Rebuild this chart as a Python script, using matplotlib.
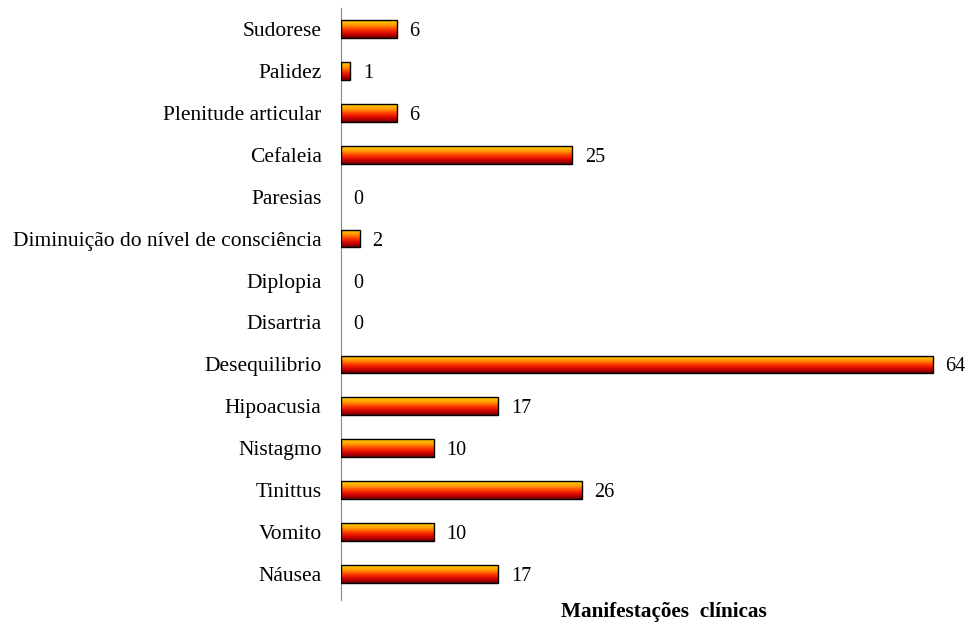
import matplotlib
matplotlib.use("Agg")
import matplotlib.pyplot as plt
import numpy as np
from matplotlib.colors import LinearSegmentedColormap

categories = [
    "Náusea", "Vomito", "Tinittus", "Nistagmo", "Hipoacusia", "Desequilibrio",
    "Disartria", "Diplopia", "Diminuição do nível de consciência", "Paresias",
    "Cefaleia", "Plenitude articular", "Palidez", "Sudorese",
]
values = [17, 10, 26, 10, 17, 64, 0, 0, 2, 0, 25, 6, 1, 6]

plt.rcParams["font.family"] = ["Liberation Serif", "DejaVu Serif"]

W, H = 971, 630
fig = plt.figure(figsize=(W / 100, H / 100), dpi=100)
ax = fig.add_axes([341 / W, 30 / H, 629 / W, 592 / H])

y = np.arange(len(categories))
bars = ax.barh(y, values, height=0.42, color="none", edgecolor="black", linewidth=1.0, zorder=3)

# yellow on top fading to dark red at the bottom
grad = LinearSegmentedColormap.from_list(
    "fire", [(0.0, "#700000"), (0.22, "#d00000"), (0.48, "#ff3a00"),
             (0.72, "#ff9a00"), (1.0, "#ffd000")])
gimg = np.linspace(0, 1, 64).reshape(-1, 1)
for b in bars:
    if b.get_width() <= 0:
        b.set_visible(False)
        continue
    x0, y0 = b.get_x(), b.get_y()
    im = ax.imshow(gimg, cmap=grad, aspect="auto", origin="lower",
                   extent=(x0, x0 + b.get_width(), y0, y0 + b.get_height()), zorder=2)
    im.set_clip_path(b)

for yi, v in zip(y, values):
    ax.annotate(str(v), (v, yi), xytext=(9, 0), textcoords="offset points",
                va="center_baseline", ha="left", fontsize=14.5)

ax.set_xlim(0, 68)
ax.set_ylim(-0.62, 13.5)
ax.set_yticks(y)
ax.set_yticklabels(categories, fontsize=15.5)
ax.tick_params(axis="y", length=0, pad=14)
ax.set_xticks([])
for s in ("top", "right", "bottom"):
    ax.spines[s].set_visible(False)
ax.spines["left"].set_color("#888888")

fig.text(664 / W, 1 - 612 / H, "Manifestações  clínicas", ha="center", va="center",
         fontsize=15.3, fontweight="bold")

fig.savefig("out.png", dpi=100)
